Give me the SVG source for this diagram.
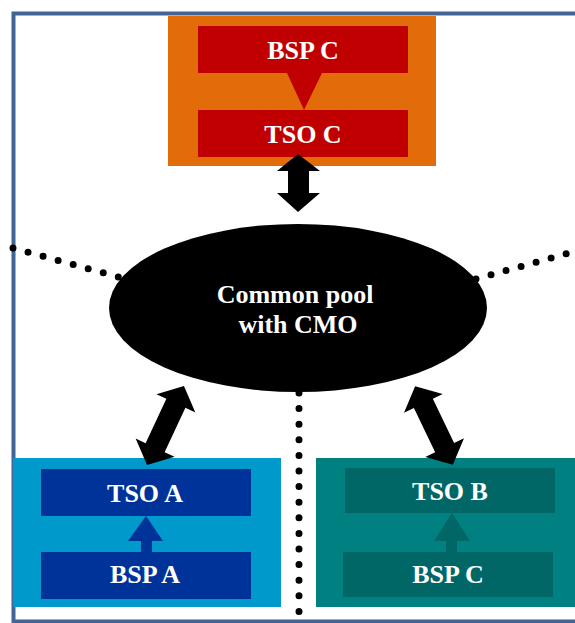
<svg xmlns="http://www.w3.org/2000/svg" width="575" height="623" viewBox="0 0 575 623">
<defs>
<style>
.lbl{font-family:"Liberation Serif","Times New Roman",serif;font-weight:bold;font-size:26px;fill:#fff;text-anchor:middle}
.dots{fill:none;stroke:#000;stroke-width:7;stroke-linecap:round;stroke-dasharray:0 15.6}
.dbl{fill:#000}
</style>
<polygon id="dblArrow" points="-43.5,0 -24.5,-21.5 -24.5,-10.5 24.5,-10.5 24.5,-21.5 43.5,0 24.5,21.5 24.5,10.5 -24.5,10.5 -24.5,21.5"/>
</defs>
<rect width="575" height="623" fill="#fff"/>
<g id="frame" fill="none" stroke="#416594">
<path d="M575,13.5 H13.5 V621.5 H575" stroke-width="4"/>
</g>
<g id="groupC">
<rect x="168" y="16" width="268" height="150" fill="#E36C0A"/>
<polygon points="287,73 322,73 304,110" fill="#C00000"/>
</g>
<g id="bspC_top">
<rect x="198" y="26" width="210" height="47" fill="#C00000"/>
<text class="lbl" x="303" y="59">BSP C</text>
</g>
<g id="tsoC">
<rect x="198" y="110" width="210" height="47" fill="#C00000"/>
<text class="lbl" x="303" y="143">TSO C</text>
</g>
<g id="pool">
<ellipse cx="298" cy="308" rx="189" ry="84" fill="#000"/>
<text class="lbl" x="295" y="303">Common pool</text>
<text class="lbl" x="298" y="333">with CMO</text>
</g>
<g id="groupA">
<rect x="13" y="458" width="268" height="149" fill="#0099CC"/>
<polygon points="146,516 163,541 152,541 152,552 141,552 141,541 128,541" fill="#003399"/>
</g>
<g id="tsoA">
<rect x="41" y="469" width="210" height="47" fill="#003399"/>
<text class="lbl" x="145" y="502">TSO A</text>
</g>
<g id="bspA">
<rect x="41" y="552" width="210" height="47" fill="#003399"/>
<text class="lbl" x="145" y="583">BSP A</text>
</g>
<g id="groupB">
<rect x="316" y="458" width="259" height="149" fill="#008080"/>
<polygon points="452,513 470,541 457,541 457,552 446,552 446,541 434,541" fill="#006666"/>
</g>
<g id="tsoB">
<rect x="345" y="468" width="210" height="45" fill="#006666"/>
<text class="lbl" x="450" y="500">TSO B</text>
</g>
<g id="bspC_bottom">
<rect x="343" y="552" width="210" height="45" fill="#006666"/>
<text class="lbl" x="448" y="583">BSP C</text>
</g>
<g id="connectors">
<path class="dots" d="M13,248 L122,278"/>
<path class="dots" d="M476,279 L576,251"/>
<path class="dots" d="M299,393 L299,622"/>
<polygon class="dbl" points="298,154 320,171 309,171 309,193 320,193 298,212 277,193 288,193 288,171 277,171"/>
<use href="#dblArrow" class="dbl" transform="translate(165.5,425.5) rotate(-64.9)"/>
<use href="#dblArrow" class="dbl" transform="translate(434,425.5) rotate(64.3)"/>
</g>
</svg>
